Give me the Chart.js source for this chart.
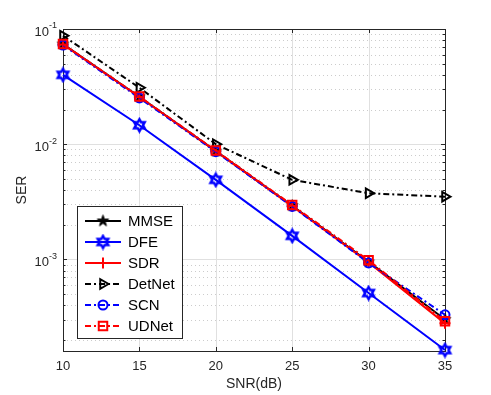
<!DOCTYPE html>
<html><head><meta charset="utf-8">
<script src="https://cdn.jsdelivr.net/npm/chart.js@4"></script>
<style>html,body{margin:0;padding:0;background:#fff;}#wrap{width:491px;height:395px;}</style>
</head><body><div id="wrap"><canvas id="c" width="491" height="395"></canvas></div>
<script>
const snr = [10, 15, 20, 25, 30, 35];
const mmse   = [0.0740, 0.0258, 0.0087, 0.00292, 0.00095, 0.000300];
const dfe    = [0.0400, 0.0146, 0.0049, 0.00160, 0.00051, 0.000163];
const sdr    = [0.0735, 0.0257, 0.0087, 0.00290, 0.00094, 0.000278];
const detnet = [0.0875, 0.0309, 0.0100, 0.00490, 0.00375, 0.00350];
const scn    = [0.0725, 0.0252, 0.0086, 0.00288, 0.00093, 0.000330];
const udnet  = [0.0740, 0.0259, 0.0088, 0.00296, 0.00098, 0.000290];
const seriesNames = ['MMSE', 'DFE', 'SDR', 'DetNet', 'SCN', 'UDNet'];
const xTicks = [10, 15, 20, 25, 30, 35];
const yDecades = [-1, -2, -3];
const yMin = 1.6e-4, yMax = 0.1;

const FONT = "'Liberation Sans', Arial, Helvetica, sans-serif";
const AX = '#262626';

function starCanvas(points, R, ratio, fill, stroke, lw) {
  const size = Math.ceil(2 * R + lw + 2);
  const c = document.createElement('canvas');
  c.width = size; c.height = size;
  const g = c.getContext('2d');
  const cx = size / 2, cy = size / 2;
  g.beginPath();
  for (let i = 0; i < 2 * points; i++) {
    const r = i % 2 ? R * ratio : R;
    const a = -Math.PI / 2 + i * Math.PI / points;
    const px = cx + r * Math.cos(a), py = cy + r * Math.sin(a);
    if (i === 0) g.moveTo(px, py); else g.lineTo(px, py);
  }
  g.closePath();
  if (fill) { g.fillStyle = fill; g.fill(); }
  if (stroke) { g.strokeStyle = stroke; g.lineWidth = lw; g.lineJoin = 'miter'; g.stroke(); }
  return c;
}
const pentagram = starCanvas(5, 6, 0.382, '#000', '#000', 1);
const hexagram = starCanvas(6, 6, 0.577, null, '#0000ff', 2.5);

const DASHDOT = [6, 3, 2, 3];
const styles = [
  {color: '#000000', dash: [], pointStyle: pentagram, radius: 6, rotation: 0, bw: 1.5},
  {color: '#0000ff', dash: [], pointStyle: hexagram, radius: 6, rotation: 0, bw: 1.5},
  {color: '#ff0000', dash: [], pointStyle: 'cross', radius: 5.5, rotation: 0, bw: 2},
  {color: '#000000', dash: DASHDOT, pointStyle: 'triangle', radius: 5.5, rotation: 90, bw: 2},
  {color: '#0000ff', dash: DASHDOT, pointStyle: 'circle', radius: 4.5, rotation: 0, bw: 2},
  {color: '#ff0000', dash: DASHDOT, pointStyle: 'rect', radius: 6, rotation: 0, bw: 2}
];
const allData = [mmse, dfe, sdr, detnet, scn, udnet];

const datasets = allData.map((arr, i) => ({
  label: seriesNames[i],
  data: arr.map((v, k) => ({x: snr[k], y: v})),
  borderColor: styles[i].color,
  backgroundColor: 'rgba(255,255,255,0)',
  borderWidth: 2,
  borderDash: styles[i].dash,
  pointStyle: styles[i].pointStyle,
  pointRadius: styles[i].radius,
  pointRotation: styles[i].rotation,
  pointBorderColor: styles[i].color,
  pointBackgroundColor: 'rgba(255,255,255,0)',
  pointBorderWidth: styles[i].bw,
  tension: 0,
  clip: false,
  order: 5 - i
}));

const matlabPlugin = {
  id: 'matlab',
  beforeDatasetsDraw(chart) {
    const {ctx, chartArea: a, scales: {x, y}} = chart;
    ctx.save();
    ctx.lineWidth = 1;
    ctx.strokeStyle = '#cccccc';
    ctx.setLineDash([1, 3]);
    for (let e = -4; e <= -1; e++) {
      for (let m = 2; m <= 9; m++) {
        const v = m * Math.pow(10, e);
        if (v <= yMin || v >= yMax) continue;
        const py = Math.round(y.getPixelForValue(v)) + 0.5;
        ctx.beginPath(); ctx.moveTo(a.left, py); ctx.lineTo(a.right, py); ctx.stroke();
      }
    }
    ctx.setLineDash([]);
    ctx.strokeStyle = '#e0e0e0';
    yDecades.forEach(e => {
      const v = Math.pow(10, e);
      if (v >= yMax) return;
      const py = Math.round(y.getPixelForValue(v)) + 0.5;
      ctx.beginPath(); ctx.moveTo(a.left, py); ctx.lineTo(a.right, py); ctx.stroke();
    });
    xTicks.forEach(t => {
      if (t <= x.min || t >= x.max) return;
      const px = Math.round(x.getPixelForValue(t)) + 0.5;
      ctx.beginPath(); ctx.moveTo(px, a.top); ctx.lineTo(px, a.bottom); ctx.stroke();
    });
    ctx.strokeStyle = AX;
    ctx.lineWidth = 1;
    ctx.strokeRect(Math.round(a.left) + 0.5, Math.round(a.top) + 0.5, Math.round(a.right - a.left), Math.round(a.bottom - a.top));
    xTicks.forEach(t => {
      const px = Math.round(x.getPixelForValue(t)) + 0.5;
      ctx.beginPath();
      ctx.moveTo(px, a.bottom); ctx.lineTo(px, a.bottom - 4);
      ctx.moveTo(px, a.top); ctx.lineTo(px, a.top + 4);
      ctx.stroke();
    });
    for (let e = -4; e <= -1; e++) {
      for (let m = 1; m <= 9; m++) {
        const v = m * Math.pow(10, e);
        if (v < yMin || v > yMax) continue;
        const py = Math.round(y.getPixelForValue(v)) + 0.5;
        const len = m === 1 ? 4 : 2.5;
        ctx.beginPath();
        ctx.moveTo(a.left, py); ctx.lineTo(a.left + len, py);
        ctx.moveTo(a.right, py); ctx.lineTo(a.right - len, py);
        ctx.stroke();
      }
    }
    ctx.restore();
  },
  afterDraw(chart) {
    const {ctx, chartArea: a, scales: {y}} = chart;
    ctx.save();
    ctx.fillStyle = AX;
    yDecades.forEach(e => {
      const py = y.getPixelForValue(Math.pow(10, e));
      const base = '10', sup = String(e);
      ctx.font = '13px ' + FONT;
      const bw = ctx.measureText(base).width;
      ctx.font = '9px ' + FONT;
      const sw = ctx.measureText(sup).width;
      const right = a.left - 6;
      const start = right - bw - sw;
      ctx.textAlign = 'left';
      ctx.textBaseline = 'middle';
      ctx.font = '13px ' + FONT;
      ctx.fillText(base, start, py + 3);
      ctx.font = '9px ' + FONT;
      ctx.fillText(sup, start + bw, py - 3);
    });
    const lx = 77.5, ly = 206.5, lw = 105, lh = 132;
    ctx.fillStyle = '#ffffff';
    ctx.fillRect(lx, ly, lw, lh);
    ctx.strokeStyle = AX;
    ctx.lineWidth = 1;
    ctx.strokeRect(lx, ly, lw, lh);
    seriesNames.forEach((name, i) => {
      const yy = 221 + 21 * i;
      const s = styles[i];
      ctx.strokeStyle = s.color;
      ctx.lineWidth = 2;
      ctx.setLineDash(s.dash);
      ctx.beginPath(); ctx.moveTo(85, yy); ctx.lineTo(121, yy); ctx.stroke();
      ctx.setLineDash([]);
      ctx.fillStyle = 'rgba(255,255,255,0)';
      ctx.lineWidth = s.bw;
      Chart.helpers.drawPoint(ctx, {pointStyle: s.pointStyle, radius: s.radius, rotation: s.rotation, borderWidth: s.bw}, 103, yy);
      ctx.fillStyle = '#000';
      ctx.font = '15px ' + FONT;
      ctx.textAlign = 'left';
      ctx.textBaseline = 'middle';
      ctx.fillText(name, 128, yy + 1);
    });
    ctx.restore();
  }
};

new Chart(document.getElementById('c'), {
  type: 'line',
  data: {datasets},
  options: {
    responsive: false,
    animation: false,
    events: [],
    layout: {padding: {left: 0, right: 46, top: 29, bottom: 0}},
    plugins: {legend: {display: false}, tooltip: {enabled: false}},
    scales: {
      x: {
        type: 'linear', min: 10, max: 35,
        afterFit(s) { s.height = 44; },
        afterBuildTicks(s) { s.ticks = xTicks.map(v => ({value: v})); },
        grid: {display: false, drawTicks: false},
        border: {display: false},
        ticks: {color: AX, font: {family: FONT, size: 13}, padding: 8, maxRotation: 0},
        title: {display: true, text: 'SNR(dB)', color: AX, font: {family: FONT, size: 14}, padding: {top: 0, bottom: 2}}
      },
      y: {
        type: 'logarithmic', min: yMin, max: yMax,
        afterFit(s) { s.width = 63; },
        grid: {display: false, drawTicks: false},
        border: {display: false},
        ticks: {display: false},
        title: {display: true, text: 'SER', color: AX, font: {family: FONT, size: 14}, padding: {top: 14, bottom: 0}}
      }
    }
  },
  plugins: [matlabPlugin]
});
</script>
</body></html>
